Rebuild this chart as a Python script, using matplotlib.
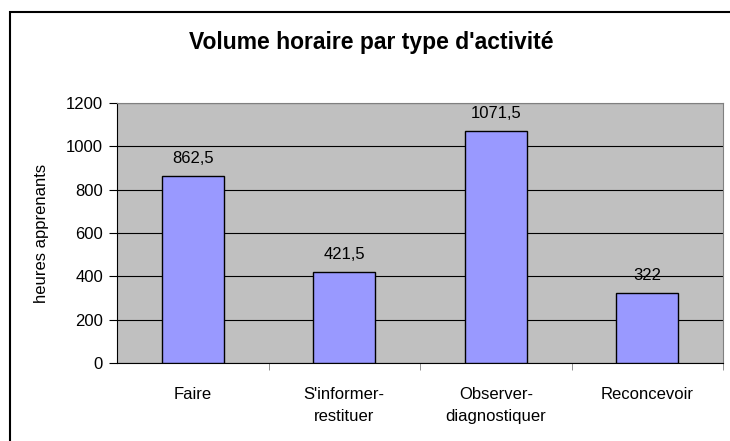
import matplotlib.pyplot as plt
from matplotlib.patches import Rectangle

# donnees
categories = ['Faire', "S'informer-\nrestituer", 'Observer-\ndiagnostiquer', 'Reconcevoir']
heures = [862.5, 421.5, 1071.5, 322]
etiquettes = ['862,5', '421,5', '1071,5', '322']

plt.rcParams['font.family'] = ['Liberation Sans', 'DejaVu Sans']

fig = plt.figure(figsize=(7.3, 4.41), dpi=100)
ax = fig.add_axes([117/730, 1-363/441, (723-117)/730, (363-103)/441])

# cadre exterieur du graphique
fig.patches.append(Rectangle((10/730, -0.05), 1.0, 1-12/441+0.05, transform=fig.transFigure,
                             fill=False, edgecolor='black', linewidth=1.5))

ax.set_facecolor('#c0c0c0')
x = list(range(len(categories)))
ax.bar(x, heures, width=0.41, color='#9999ff', edgecolor='black', linewidth=1, zorder=3)
for xi, h, t in zip(x, heures, etiquettes):
    ax.text(xi, h + 45, t, ha='center', va='bottom', fontsize=12)

ax.set_xlim(-0.5, 3.5)
ax.set_ylim(0, 1200)
ax.set_yticks(range(0, 1201, 200))
ax.yaxis.grid(True, color='black', linewidth=0.8, zorder=0)
ax.set_axisbelow(True)

ax.set_xticks(x)
ax.set_xticklabels(categories, fontsize=12, linespacing=1.65)
ax.tick_params(axis='x', length=0, pad=17)
ax.set_xticks([0.5, 1.5, 2.5, 3.5], minor=True)
ax.tick_params(axis='x', which='minor', length=5, color='#808080')
ax.tick_params(axis='y', labelsize=12, length=6, pad=4)

for s in ['top', 'right']:
    ax.spines[s].set_color('#808080')
ax.spines['bottom'].set_color('black')
ax.spines['left'].set_color('black')

ax.set_ylabel('heures apprenants', fontsize=12, labelpad=12)
fig.text(371/730, 1-42/441, "Volume horaire par type d'activité",
         ha='center', va='center', fontsize=16.5, fontweight='bold')

plt.savefig('out.png', dpi=100)
